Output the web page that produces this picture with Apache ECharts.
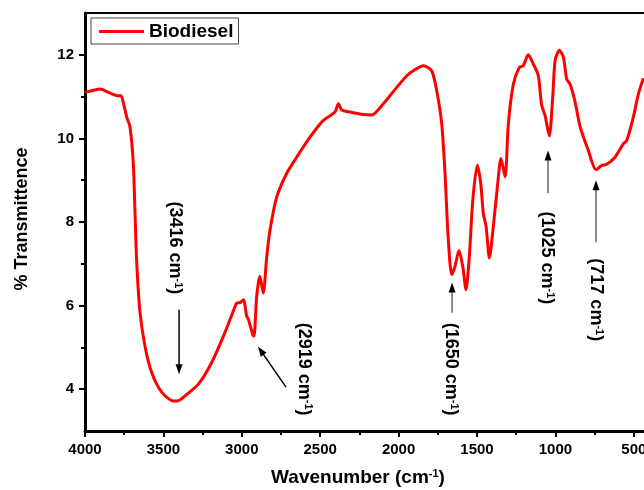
<!DOCTYPE html>
<html>
<head>
<meta charset="utf-8">
<script src="https://cdn.jsdelivr.net/npm/echarts@6/dist/echarts.min.js"></script>
<style>html,body{margin:0;padding:0;background:#fff;}#c{width:644px;height:490px;}</style>
</head>
<body>
<div id="c"></div>
<script>
// ---- data ----
const seriesName = 'Biodiesel';
const wavenumbers = [4000,3957,3904,3851,3788,3770,3749,3734,3713,3692,3681,3670,3649,3617,3575,3511,3437,3410,3362,3277,3192,3107,3043,3032,3011,2990,2969,2958,2930,2922,2905,2885,2863,2841,2820,2777,2714,2650,2565,2480,2406,2384,2363,2310,2225,2171,2097,2012,1948,1906,1842,1789,1757,1725,1704,1683,1661,1640,1615,1591,1570,1549,1527,1498,1476,1460,1442,1421,1396,1368,1347,1321,1300,1268,1230,1205,1173,1141,1109,1088,1066,1039,1017,1002,975,949,928,907,875,843,790,741,706,673,620,567,545,503,471,439];
const transmittance = [11.10,11.14,11.18,11.10,11.02,11.02,10.75,10.51,10.27,9.40,8.21,7.02,5.83,5.02,4.40,3.93,3.72,3.72,3.84,4.12,4.64,5.36,5.98,6.06,6.07,6.14,5.75,5.67,5.31,5.27,6.22,6.70,6.30,7.17,7.81,8.60,9.16,9.55,10.03,10.43,10.63,10.83,10.68,10.63,10.57,10.56,10.83,11.22,11.50,11.62,11.74,11.62,11.14,10.35,9.16,7.57,6.74,6.94,7.32,6.94,6.38,7.17,8.52,9.36,8.92,8.21,7.89,7.14,7.89,8.92,9.52,9.08,10.35,11.30,11.70,11.74,12.00,11.78,11.50,10.80,10.55,10.06,11.00,11.86,12.11,11.94,11.42,11.30,10.88,10.29,9.71,9.25,9.35,9.38,9.55,9.87,9.95,10.51,11.06,11.44];
const xMajorTicks = [4000,3500,3000,2500,2000,1500,1000,500];
const xMinorTicks = [3750,3250,2750,2250,1750,1250,750];
const yMajorTicks = [4,6,8,10,12];
const yMinorTicks = [5,7,9,11];
const xRange = [435, 4000];
const yRange = [3, 13];
// annotations (data coordinates)
const annotLabels = ['3416','2919','1650','1025','717'];
const annotTextPos = [[3426,7.38],[2603,4.48],[1666,4.48],[1057,7.14],[741,6.14]];
const annotArrowTail = [[3400,5.90],[2718,4.05],[1659,5.83],[1047,8.69],[741,7.52]];
const annotArrowHead = [[3400,4.36],[2897,5.02],[1659,6.55],[1047,9.71],[741,9.00]];
const annotShaftColor = ['#000','#000','#666','#666','#666'];

const FONT = '"Liberation Sans", Arial, sans-serif';
const chart = echarts.init(document.getElementById('c'), null, {renderer:'canvas'});

const points = wavenumbers.map((w,i)=>[w, transmittance[i]]);
const fmt = v => String(v);
const baseX = {type:'value', min:xRange[0], max:xRange[1], inverse:true, splitLine:{show:false}};
const baseY = {type:'value', min:yRange[0], max:yRange[1], splitLine:{show:false}};

chart.setOption({
  animation:false,
  backgroundColor:'#fff',
  grid:{left:85, right:0, top:13, bottom:59, containLabel:false, outerBoundsMode:'none'},
  legend:{
    left:91, top:18, orient:'horizontal',
    data:[seriesName], icon:'rect',
    borderColor:'#444', borderWidth:1, padding:[4,5,3,8],
    itemWidth:45, itemHeight:3,
    textStyle:{fontFamily:FONT, fontWeight:'bold', fontSize:19, color:'#000'}
  },
  xAxis:[
    Object.assign({}, baseX, {
      position:'bottom',
      axisLine:{show:true, onZero:false, lineStyle:{color:'#000', width:3}},
      axisTick:{show:true, inside:false, length:6, customValues:xMajorTicks, lineStyle:{color:'#000', width:2}},
      axisLabel:{show:true, customValues:xMajorTicks, formatter:fmt, margin:11, color:'#000', fontFamily:FONT, fontWeight:'bold', fontSize:15}
    }),
    Object.assign({}, baseX, {
      position:'bottom',
      axisLine:{show:false, onZero:false},
      axisTick:{show:true, inside:false, length:4, customValues:xMinorTicks, lineStyle:{color:'#000', width:2}},
      axisLabel:{show:false}
    }),
    Object.assign({}, baseX, {
      position:'top',
      axisLine:{show:true, onZero:false, lineStyle:{color:'#000', width:2}},
      axisTick:{show:false}, axisLabel:{show:false}
    })
  ],
  yAxis:[
    Object.assign({}, baseY, {
      position:'left',
      axisLine:{show:true, onZero:false, lineStyle:{color:'#000', width:3}},
      axisTick:{show:true, inside:false, length:6, customValues:yMajorTicks, lineStyle:{color:'#000', width:2}},
      axisLabel:{show:true, customValues:yMajorTicks, formatter:fmt, margin:11, color:'#000', fontFamily:FONT, fontWeight:'bold', fontSize:15}
    }),
    Object.assign({}, baseY, {
      position:'left',
      axisLine:{show:false, onZero:false},
      axisTick:{show:true, inside:false, length:4, customValues:yMinorTicks, lineStyle:{color:'#000', width:2}},
      axisLabel:{show:false}
    })
  ],
  series:[{
    name:seriesName, type:'line', data:points,
    xAxisIndex:0, yAxisIndex:0,
    symbol:'none', smooth:0.25,
    lineStyle:{color:'#ff0000', width:3},
    itemStyle:{color:'#ff0000'},
    clip:true
  }]
});

// annotations, titles
function buildGraphics(){
  const g = [];
  const rich = {
    sup:{fontFamily:FONT, fontWeight:'bold', fontSize:11, verticalAlign:'top', lineHeight:12, fill:'#000'}
  };
  for(let i=0;i<annotLabels.length;i++){
    const tp = chart.convertToPixel({xAxisIndex:0, yAxisIndex:0}, annotTextPos[i]);
    g.push({type:'text', x:tp[0], y:tp[1], rotation:-Math.PI/2, silent:true,
      style:{text:'(' + annotLabels[i] + ' cm{sup|-1})', fill:'#000',
        font:'bold 18px ' + FONT, align:'center', verticalAlign:'middle', rich:rich}});
    const t = chart.convertToPixel({xAxisIndex:0, yAxisIndex:0}, annotArrowTail[i]);
    const h = chart.convertToPixel({xAxisIndex:0, yAxisIndex:0}, annotArrowHead[i]);
    const dx = h[0]-t[0], dy = h[1]-t[1];
    const len = Math.sqrt(dx*dx+dy*dy);
    const ux = dx/len, uy = dy/len;
    const hl = 10, hw = 3.5;
    const bx = h[0]-ux*hl, by = h[1]-uy*hl;
    g.push({type:'line', silent:true, shape:{x1:t[0], y1:t[1], x2:bx+ux*2, y2:by+uy*2},
      style:{stroke:annotShaftColor[i], lineWidth:1.5}});
    g.push({type:'polygon', silent:true, shape:{points:[[h[0],h[1]],[bx-uy*hw, by+ux*hw],[bx+uy*hw, by-ux*hw]]},
      style:{fill:'#000'}});
  }
  g.push({type:'text', x:22, y:219, rotation:Math.PI/2, silent:true,
    style:{text:'% Transmittence', fill:'#000', font:'bold 18px ' + FONT, align:'center', verticalAlign:'middle'}});
  g.push({type:'text', x:358, y:478, silent:true,
    style:{text:'Wavenumber (cm{sup|-1})', fill:'#000', font:'bold 19px ' + FONT, align:'center', verticalAlign:'middle', rich:rich}});
  chart.setOption({graphic:g});
}
buildGraphics();
</script>
</body>
</html>
